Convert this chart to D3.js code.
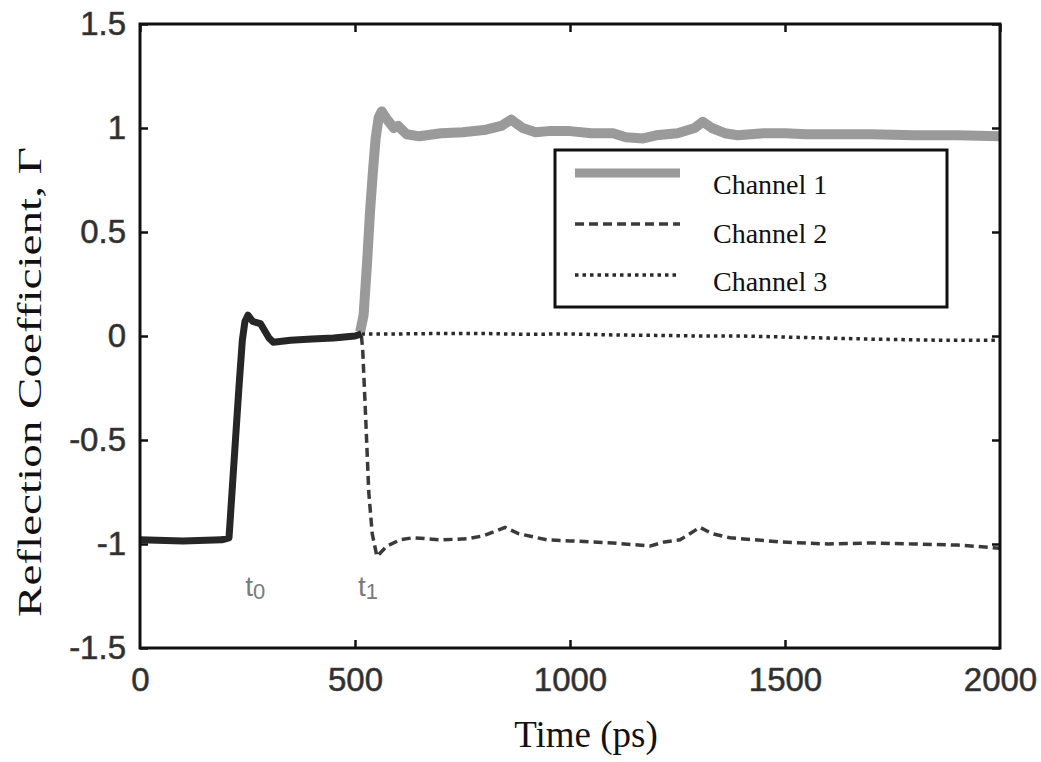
<!DOCTYPE html>
<html>
<head>
<meta charset="utf-8">
<script src="https://cdn.jsdelivr.net/npm/d3@7"></script>
<style>
  body { margin: 0; background: #fff; }
  svg { display: block; }
</style>
</head>
<body>
<div id="chart"></div>
<script>
// shared incident response before t1 (all channels overlap)
var common = [
    [0, -0.98], [100, -0.985], [190, -0.98], [207, -0.97], [214, -0.75],
    [222, -0.5], [230, -0.25], [238, -0.02], [244, 0.07], [251, 0.1],
    [262, 0.07], [280, 0.06], [300, -0.01], [310, -0.03], [350, -0.02],
    [400, -0.015], [450, -0.01], [500, 0.0], [515, 0.01]
];
var channel1 = [
    [512, 0.02], [520, 0.1], [528, 0.35], [535, 0.6], [542, 0.8], [548, 0.95],
    [555, 1.05], [562, 1.08], [575, 1.04], [590, 1.0], [600, 1.01], [620, 0.97],
    [650, 0.96], [700, 0.975], [750, 0.98], [800, 0.99], [840, 1.01], [863, 1.04],
    [890, 1.0], [920, 0.98], [950, 0.985], [1000, 0.985], [1050, 0.975], [1100, 0.975],
    [1130, 0.955], [1170, 0.95], [1200, 0.965], [1250, 0.975], [1290, 1.0], [1309, 1.03],
    [1330, 1.0], [1360, 0.975], [1390, 0.965], [1450, 0.975], [1500, 0.975], [1550, 0.97],
    [1600, 0.97], [1700, 0.97], [1800, 0.965], [1900, 0.965], [2000, 0.96]
];
var channel2 = [
    [515, 0.0], [518, -0.07], [525, -0.4], [532, -0.75], [540, -0.95], [551, -1.06],
    [574, -1.01], [605, -0.98], [635, -0.97], [700, -0.98], [760, -0.975], [800, -0.96],
    [849, -0.92], [880, -0.95], [946, -0.98], [1000, -0.985], [1100, -0.995], [1186, -1.01],
    [1220, -0.99], [1256, -0.98], [1302, -0.92], [1330, -0.95], [1372, -0.97], [1488, -0.99],
    [1600, -1.0], [1700, -0.995], [1800, -1.0], [1900, -1.005], [2000, -1.02]
];
var channel3 = [
    [515, 0.01], [600, 0.01], [700, 0.012], [800, 0.012], [900, 0.008], [1000, 0.01],
    [1100, 0.005], [1200, 0.003], [1300, 0.0], [1400, 0.0], [1500, -0.005],
    [1600, -0.01], [1700, -0.015], [1850, -0.02], [2000, -0.02]
];

var xTicks = [0, 500, 1000, 1500, 2000];
var yTicks = [1.5, 1, 0.5, 0, -0.5, -1, -1.5];
var yTickLabels = ['1.5', '1', '0.5', '0', '-0.5', '-1', '-1.5'];

var legendLabels = ['Channel 1', 'Channel 2', 'Channel 3'];
var markers = [
    { text: 't', sub: '0', t: 268, g: -1.25 },
    { text: 't', sub: '1', t: 530, g: -1.25 }
];

var width = 1041, height = 762;
var margin = {top: 24, right: 41, bottom: 114, left: 140};

var svg = d3.select('#chart')
    .append('svg')
    .attr('width', width)
    .attr('height', height);

var x = d3.scaleLinear().domain([0, 2000]).range([margin.left, width - margin.right]);
var y = d3.scaleLinear().domain([-1.5, 1.5]).range([height - margin.bottom, margin.top]);

var line = d3.line().x(d => x(d[0])).y(d => y(d[1]));

// styles per series
var styles = [
    { stroke: '#9a9a9a', width: 10, dash: null },
    { stroke: '#3a3a3a', width: 3.5, dash: '9,5' },
    { stroke: '#2a2a2a', width: 3.5, dash: '3.5,4' }
];

var plot = svg.append('g');

plot.append('path').datum(channel1)
    .attr('d', line).attr('fill', 'none')
    .attr('stroke', styles[0].stroke).attr('stroke-width', styles[0].width)
    .attr('stroke-linejoin', 'round');

plot.append('path').datum(channel2)
    .attr('d', line).attr('fill', 'none')
    .attr('stroke', styles[1].stroke).attr('stroke-width', styles[1].width)
    .attr('stroke-dasharray', styles[1].dash);

plot.append('path').datum(channel3)
    .attr('d', line).attr('fill', 'none')
    .attr('stroke', styles[2].stroke).attr('stroke-width', styles[2].width)
    .attr('stroke-dasharray', styles[2].dash);

plot.append('path').datum(common)
    .attr('d', line).attr('fill', 'none')
    .attr('stroke', '#262626').attr('stroke-width', 7)
    .attr('stroke-linejoin', 'round');

// frame
svg.append('rect')
    .attr('x', x(0)).attr('y', y(1.5))
    .attr('width', x(2000) - x(0)).attr('height', y(-1.5) - y(1.5))
    .attr('fill', 'none').attr('stroke', '#111').attr('stroke-width', 3);

// axes with inward ticks
var tickStyle = g => {
    g.select('.domain').remove();
    g.selectAll('.tick line').attr('stroke', '#111').attr('stroke-width', 2.5);
};

svg.append('g')
    .attr('transform', `translate(0,${y(-1.5)})`)
    .call(d3.axisBottom(x).tickValues(xTicks).tickSize(-8).tickPadding(20).tickFormat(d3.format('d')))
    .call(tickStyle)
    .call(g => g.selectAll('.tick line').filter(d => d === 0 || d === 2000).remove());

svg.append('g')
    .attr('transform', `translate(0,${y(1.5)})`)
    .call(d3.axisTop(x).tickValues(xTicks).tickSize(-8).tickFormat(''))
    .call(tickStyle);

svg.append('g')
    .attr('transform', `translate(${x(0)},0)`)
    .call(d3.axisLeft(y).tickValues(yTicks).tickSize(-8).tickPadding(14)
        .tickFormat((d, i) => yTickLabels[i]))
    .call(tickStyle);

svg.append('g')
    .attr('transform', `translate(${x(2000)},0)`)
    .call(d3.axisRight(y).tickValues(yTicks).tickSize(-8).tickFormat(''))
    .call(tickStyle);

svg.selectAll('.tick text')
    .style('font-family', '"Liberation Sans", Arial, sans-serif')
    .style('font-size', '33px')
    .attr('fill', '#2e2e2e')
    .attr('stroke', '#444')
    .attr('stroke-width', 0.6);

// axis titles
svg.append('text')
    .attr('x', (x(0) + x(2000)) / 2 + 16)
    .attr('y', 747)
    .attr('text-anchor', 'middle')
    .style('font-family', '"Liberation Serif", "Times New Roman", serif')
    .style('font-size', '37px')
    .attr('fill', '#111')
    .text('Time (ps)');

svg.append('text')
    .attr('transform', 'translate(41,382) rotate(-90)')
    .attr('text-anchor', 'middle')
    .attr('textLength', 470)
    .attr('lengthAdjust', 'spacingAndGlyphs')
    .style('font-family', '"Liberation Serif", "Times New Roman", serif')
    .style('font-size', '34px')
    .attr('fill', '#111')
    .text('Reflection Coefficient, Γ');

// t0 / t1 markers
var mk = svg.append('g').selectAll('text')
    .data(markers)
    .enter()
    .append('text')
    .attr('x', d => x(d.t))
    .attr('y', d => y(d.g))
    .attr('text-anchor', 'middle')
    .style('font-family', '"Liberation Sans", Arial, sans-serif')
    .style('font-size', '28px')
    .attr('fill', '#7a7a7a');
mk.append('tspan').text(d => d.text);
mk.append('tspan').attr('dy', 3).style('font-size', '22px').text(d => d.sub);

// legend
var legend = svg.append('g').attr('transform', 'translate(555,150)');
legend.append('rect')
    .attr('width', 392).attr('height', 157)
    .attr('fill', '#fff').attr('stroke', '#111').attr('stroke-width', 3);

var rows = legend.selectAll('g.row')
    .data(legendLabels)
    .enter()
    .append('g')
    .attr('class', 'row');

rows.append('line')
    .attr('x1', 20).attr('x2', 125)
    .attr('y1', (d, i) => 23 + i * 51).attr('y2', (d, i) => 23 + i * 51)
    .attr('stroke', (d, i) => styles[i].stroke)
    .attr('stroke-width', (d, i) => i === 0 ? 9 : 3.5)
    .attr('stroke-dasharray', (d, i) => styles[i].dash);

rows.append('text')
    .attr('x', 158)
    .attr('y', (d, i) => 44 + i * 48.5)
    .style('font-family', '"Liberation Serif", "Times New Roman", serif')
    .style('font-size', '28px')
    .attr('fill', '#111')
    .text(d => d);
</script>
</body>
</html>
